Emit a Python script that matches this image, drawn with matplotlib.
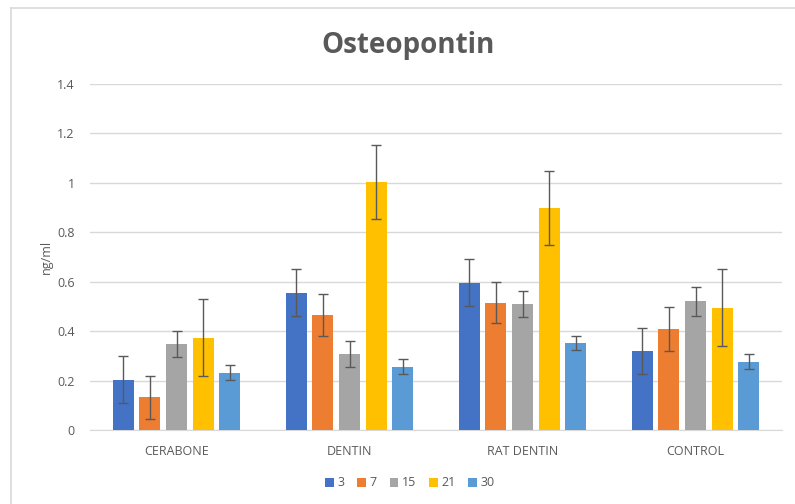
import numpy as np
import matplotlib.pyplot as plt
from matplotlib.lines import Line2D

# ==== データ ====
groups = ["CERABONE", "DENTIN", "RAT DENTIN", "CONTROL"]
days = ["3", "7", "15", "21", "30"]
vals_3 = [0.203, 0.556, 0.596, 0.319]
vals_7 = [0.132, 0.464, 0.515, 0.409]
vals_15 = [0.348, 0.308, 0.510, 0.520]
vals_21 = [0.374, 1.005, 0.900, 0.495]
vals_30 = [0.232, 0.256, 0.353, 0.276]
err_3 = [0.095, 0.094, 0.094, 0.093]
err_7 = [0.088, 0.085, 0.084, 0.089]
err_15 = [0.054, 0.054, 0.054, 0.058]
err_21 = [0.155, 0.150, 0.150, 0.155]
err_30 = [0.030, 0.030, 0.029, 0.030]
yticks = [0, 0.2, 0.4, 0.6, 0.8, 1.0, 1.2, 1.4]
ytick_labels = ["0", "0.2", "0.4", "0.6", "0.8", "1", "1.2", "1.4"]

series = [vals_3, vals_7, vals_15, vals_21, vals_30]
errs = [err_3, err_7, err_15, err_21, err_30]
colors = ["#4472C4", "#ED7D31", "#A5A5A5", "#FFC000", "#5B9BD5"]

plt.rcParams["font.family"] = ["Open Sans", "DejaVu Sans"]
txt = "#595959"

fig = plt.figure(figsize=(7.95, 5.04), dpi=100)
ax = fig.add_axes([90 / 795, 1 - 430 / 504, 692 / 795, 346 / 504])

# 外枠（上・左のみ見える）
fig.add_artist(Line2D([11 / 795, 1], [1 - 8 / 504] * 2, color="#D9D9D9", lw=1.2))
fig.add_artist(Line2D([11 / 795] * 2, [0, 1 - 8 / 504], color="#D9D9D9", lw=1.2))

x = np.arange(len(groups))
width = 0.122
pitch = 0.154
for i, (v, e, c) in enumerate(zip(series, errs, colors)):
    pos = x + (i - 2) * pitch
    ax.bar(pos, v, width, color=c, label=days[i], zorder=3)
    ax.errorbar(pos, v, yerr=e, fmt="none", ecolor="#595959",
                elinewidth=1, capsize=3.5, capthick=1, zorder=4)

ax.set_xlim(-0.5, len(groups) - 0.5)
ax.set_ylim(0, 1.4)
ax.set_yticks(yticks)
ax.set_yticklabels(ytick_labels)
ax.set_xticks(x)
ax.set_xticklabels(groups)
ax.tick_params(axis="both", length=0, colors=txt, labelsize=9)
ax.tick_params(axis="y", pad=11)
ax.tick_params(axis="x", pad=11)
ax.grid(axis="y", color="#D9D9D9", lw=1, zorder=0)
for s in ["top", "right", "left"]:
    ax.spines[s].set_visible(False)
ax.spines["bottom"].set_color("#D9D9D9")

ax.set_ylabel("ng/ml", color=txt, fontsize=9, labelpad=3)
fig.text(408 / 795, 1 - 45 / 504, "Osteopontin", ha="center", va="center",
         fontsize=20, fontweight="bold", color=txt)

leg = fig.legend(loc="center", bbox_to_anchor=(410 / 795, 1 - 483 / 504),
                 ncol=5, frameon=False, fontsize=9, handlelength=0.7,
                 handleheight=0.7, handletextpad=0.3, columnspacing=1.0)
for t in leg.get_texts():
    t.set_color(txt)

plt.savefig("out.png")
plt.close()
